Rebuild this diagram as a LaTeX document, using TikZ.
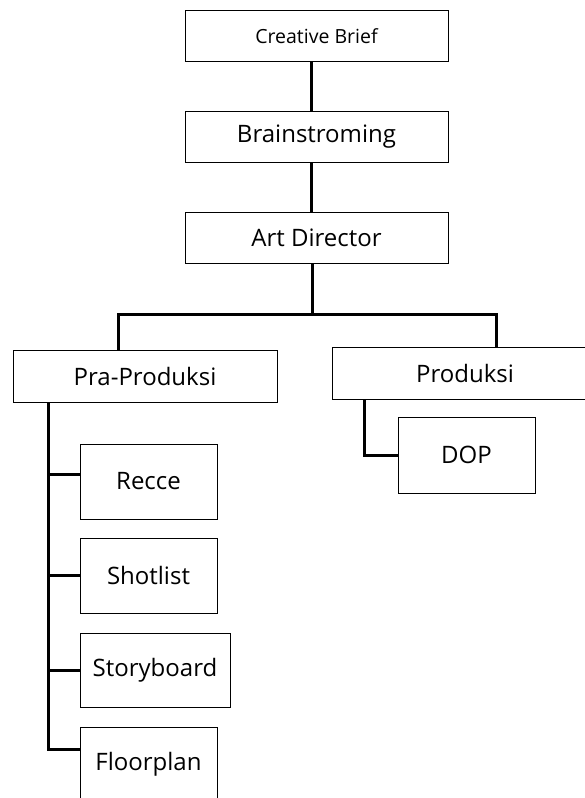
\documentclass[tikz,border=0pt]{standalone}
\usepackage{fontspec}
\setmainfont{Open Sans}
\usetikzlibrary{positioning}

\begin{document}
\begin{tikzpicture}[
        x=1pt, y=-1pt,
        box/.style={rectangle, draw=black, line width=1pt, align=center, inner sep=0pt, font=\fontsize{24}{27}\selectfont},
        topbox/.style={box, minimum width=263pt, minimum height=51pt},
        subbox/.style={box, minimum width=137pt, minimum height=75pt},
        link/.style={line width=3pt, draw=black}
    ]
        \useasboundingbox (0,0) rectangle (584,798);

        \node[topbox, font=\fontsize{19.5}{22}\selectfont] (brief) at (316.5,36) {Creative Brief};
        \node[topbox, below=49pt of brief] (brain) {Brainstroming};
        \node[topbox, below=49pt of brain] (artdir) {Art Director};

        \node[box, minimum width=264pt, minimum height=52pt] (pra) at (145,376) {Pra-Produksi};
        \node[box, minimum width=266pt, minimum height=52pt] (prod) at (465,373) {Produksi};

        \node[subbox] (recce) at (148.5,481.5) {Recce};
        \node[subbox] (shot) at (148.5,575.5) {Shotlist};
        \node[subbox, minimum width=150pt, minimum height=74pt] (story) at (155,670) {Storyboard};
        \node[subbox, minimum height=74pt] (floor) at (148.5,764) {Floorplan};
        \node[subbox, minimum height=76pt] (dop) at (466.5,455) {DOP};

        \draw[link] ([xshift=-5pt]brief.south) -- ([xshift=-5pt]brain.north);
        \draw[link] ([xshift=-5pt]brain.south) -- ([xshift=-5pt]artdir.north);
        \draw[link] ([xshift=-4pt]artdir.south) -- ++(0,50) coordinate (hub);
        \draw[link] ([xshift=-27pt]pra.north) |- (hub) -| ([xshift=31pt]prod.north);

        \coordinate (spine) at ([xshift=-97pt]pra.south);
        \draw[link] (spine) |- ([yshift=15pt]floor.west);
        \draw[link] (spine |- recce.west) ++(0,-7) -- ([yshift=7pt]recce.west);
        \foreach \n in {shot,story}
            \draw[link] (spine |- \n.west) -- (\n.west);

        \draw[link] ([xshift=-101pt]prod.south) |- (dop.west);
    \end{tikzpicture}
\end{document}
